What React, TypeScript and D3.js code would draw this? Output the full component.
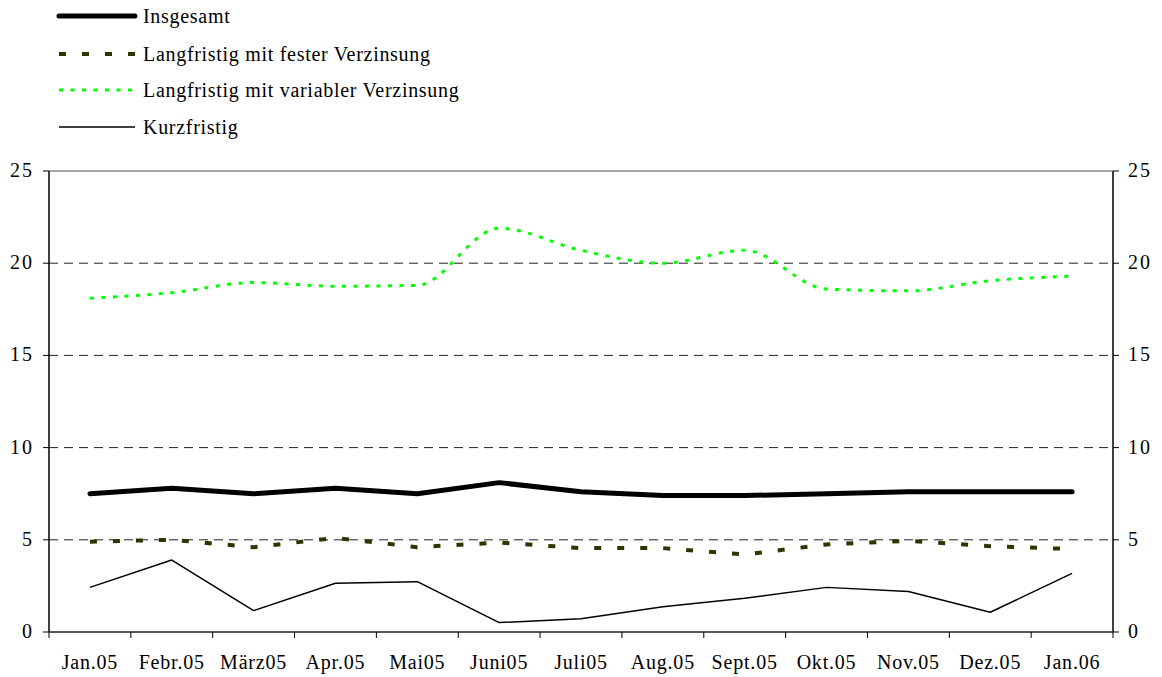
import React from "react";
import * as d3 from "d3";

const categories = ["Jan.05", "Febr.05", "März05", "Apr.05", "Mai05", "Juni05", "Juli05", "Aug.05", "Sept.05", "Okt.05", "Nov.05", "Dez.05", "Jan.06"];
const insgesamt = [7.5, 7.8, 7.5, 7.8, 7.5, 8.1, 7.6, 7.4, 7.4, 7.5, 7.6, 7.6, 7.6];
const fest = [4.9, 5.0, 4.6, 5.1, 4.6, 4.85, 4.55, 4.55, 4.2, 4.75, 4.95, 4.65, 4.5];
const variabel = [18.1, 18.4, 18.95, 18.75, 18.8, 21.9, 20.7, 20.0, 20.7, 18.6, 18.5, 19.05, 19.3];
const kurz = [2.42, 3.9, 1.16, 2.64, 2.73, 0.51, 0.72, 1.37, 1.83, 2.42, 2.2, 1.07, 3.18];
const yTicks = [0, 5, 10, 15, 20, 25];
const legendLabels = ["Insgesamt", "Langfristig mit fester Verzinsung", "Langfristig mit variabler Verzinsung", "Kurzfristig"];

const W = 1162, H = 677;
const L = 49, R = 1113, T = 171, B = 632;
const font = "'Liberation Serif', 'Times New Roman', serif";

export default function App() {
  const x = d3.scaleBand<string>().domain(categories).range([L, R]).padding(0);
  const y = d3.scaleLinear().domain([0, 25]).range([B, T]);
  const cx = (i: number) => (x(categories[i]) as number) + x.bandwidth() / 2;
  const straight = d3.line<number>().x((_, i) => cx(i)).y((d) => y(d));
  const smooth = d3.line<number>().x((_, i) => cx(i)).y((d) => y(d)).curve(d3.curveMonotoneX);

  const series = [
    { label: legendLabels[0], stroke: "#000", width: 5, dash: undefined as string | undefined, cap: "round", gen: straight, data: insgesamt },
    { label: legendLabels[1], stroke: "#333300", width: 4, dash: "7 16", cap: "butt", gen: straight, data: fest },
    { label: legendLabels[2], stroke: "#00ff00", width: 3, dash: "4 7.5", cap: "butt", gen: smooth, data: variabel },
    { label: legendLabels[3], stroke: "#000", width: 1.5, dash: undefined, cap: "butt", gen: straight, data: kurz },
  ];
  const legendY = [16, 54, 90, 127];
  const boundaries = [...categories.map((c) => x(c) as number), R];

  return (
    <svg width={W} height={H} style={{ position: "absolute", left: 0, top: 0, background: "#fff" }}>
      {/* legend */}
      {series.map((s, i) => (
        <g key={s.label}>
          <line x1={59} x2={135} y1={legendY[i]} y2={legendY[i]} stroke={s.stroke} strokeWidth={s.width}
            strokeDasharray={s.dash} strokeLinecap={s.cap as any} />
          <text x={143} y={legendY[i] + 7} fontFamily={font} fontSize={20} letterSpacing={0.7} fill="#000">{s.label}</text>
        </g>
      ))}
      {/* grid */}
      {yTicks.filter((t) => t > 0 && t < 25).map((t) => (
        <line key={t} x1={L} x2={R} y1={y(t)} y2={y(t)} stroke="#222" strokeWidth={1} strokeDasharray="9 6" />
      ))}
      <line x1={L} x2={R} y1={T} y2={T} stroke="#888" strokeWidth={1.5} />
      {/* axes */}
      <line x1={L} x2={L} y1={T} y2={B} stroke="#000" strokeWidth={1.5} />
      <line x1={R} x2={R} y1={T} y2={B} stroke="#000" strokeWidth={1.5} />
      <line x1={L} x2={R} y1={B} y2={B} stroke="#222" strokeWidth={1.5} />
      {yTicks.map((t) => (
        <g key={"yt" + t}>
          <line x1={L - 6} x2={L} y1={y(t)} y2={y(t)} stroke="#000" strokeWidth={1} />
          <line x1={R} x2={R + 6} y1={y(t)} y2={y(t)} stroke="#000" strokeWidth={1} />
          <text x={34} y={y(t) + 6} textAnchor="end" fontFamily={font} fontSize={20} letterSpacing={2} fill="#000">{t}</text>
          <text x={1128} y={y(t) + 6} textAnchor="start" fontFamily={font} fontSize={20} letterSpacing={2} fill="#000">{t}</text>
        </g>
      ))}
      {boundaries.map((b, i) => (
        <line key={"xt" + i} x1={b} x2={b} y1={B} y2={B + 6} stroke="#000" strokeWidth={1} />
      ))}
      {categories.map((c, i) => (
        <text key={c} x={cx(i)} y={669} textAnchor="middle" fontFamily={font} fontSize={20} letterSpacing={0.8} fill="#000">{c}</text>
      ))}
      {/* series */}
      {series.slice().reverse().map((s) => (
        <path key={"p" + s.label} d={s.gen(s.data) as string} fill="none" stroke={s.stroke} strokeWidth={s.width}
          strokeDasharray={s.dash} strokeLinecap={s.cap as any} strokeLinejoin="round" />
      ))}
    </svg>
  );
}
